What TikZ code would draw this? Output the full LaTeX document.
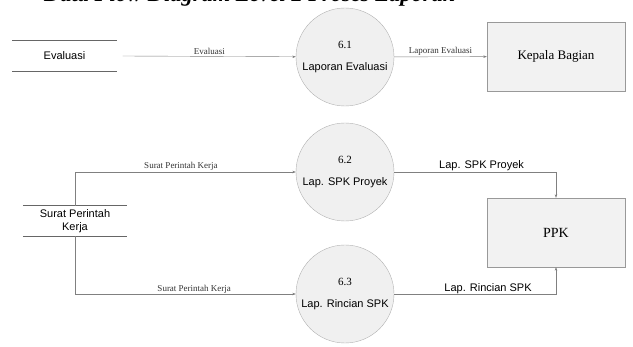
\documentclass[tikz,border=0pt]{standalone}
\usepackage{fontspec}
\setmainfont{Liberation Serif}
\setsansfont{Liberation Sans}
\usetikzlibrary{positioning}
\usetikzlibrary{arrows.meta}

\tikzset{
proc/.style={circle,draw=black!30,fill=black!6,minimum size=98pt,inner sep=0pt,align=center,font=\fontsize{11}{13}\selectfont},
ext/.style={rectangle,draw=black!40,fill=black!5,minimum width=138pt,minimum height=69pt,inner sep=0pt},
store/.style={minimum width=104pt,minimum height=30pt,inner sep=0pt,align=center,font=\sffamily\fontsize{11}{13}\selectfont},
flow/.style={draw=black!50,-{Stealth[length=3.5pt,width=2.5pt]}},
lbl/.style={font=\fontsize{9}{11}\selectfont,text=black!80,inner sep=1.5pt},
lbls/.style={font=\sffamily\fontsize{11}{13}\selectfont,inner sep=1.5pt}
}

\begin{document}
\begin{tikzpicture}[x=1pt,y=-1pt]
\useasboundingbox (0,0) rectangle (633,347);

%title, cut at the top
\begin{scope}
\clip (0,0) rectangle (633,347);
\node[anchor=base west,inner sep=0pt,font=\bfseries\itshape\fontsize{22.5}{25}\selectfont] (title) at (27,2) {-- Data Flow Diagram Level 2 Proses Laporan};
\end{scope}

%data stores
\node[store] (ds1) at (64.5,56) {Evaluasi};
\node[store] (ds2) at (75,221) {Surat Perintah\\Kerja};
\draw[black!60,line width=0.8pt] (ds1.north west)--(ds1.north east);
\draw[black!60,line width=0.8pt] (ds1.south west)--(ds1.south east);
\draw[black!60,line width=0.8pt] (ds2.north west)--(ds2.north east);
\draw[black!60,line width=0.8pt] (ds2.south west)--(ds2.south east);

%processes
\node[proc] (p61) at (345,57) {6.1\\[9pt]\sffamily Laporan Evaluasi};
\node[proc] (p62) at (345,172) {6.2\\[9pt]\sffamily Lap. SPK Proyek};
\node[proc] (p63) at (345,294) {6.3\\[9pt]\sffamily Lap. Rincian SPK};

%external entities
\node[ext,font=\fontsize{13}{15}\selectfont] (kb) at (556,56.5) {Kepala Bagian};
\node[ext,font=\fontsize{14}{16}\selectfont] (ppk) at (556,232.5) {PPK};

%flows
\draw[flow] (ds1.east)++(6,0) coordinate (e1) (e1)--(p61) node[lbl,midway,above]{Evaluasi};
\draw[flow] (p61)--(kb) node[lbl,midway,above]{Laporan Evaluasi};
\draw[flow] (ds2.north)|-(p62) node[lbl,pos=0.74,above]{Surat Perintah Kerja};
\draw[flow] (ds2.south)|-(p63) node[lbl,pos=0.77,above=-1pt]{Surat Perintah Kerja};
\draw[flow] (p62)-|(ppk.north) node[lbls,pos=0.27,above]{Lap. SPK Proyek};
\draw[flow] (p63)-|(ppk.south) node[lbls,pos=0.29,above=-1pt]{Lap. Rincian SPK};
\end{tikzpicture}
\end{document}
